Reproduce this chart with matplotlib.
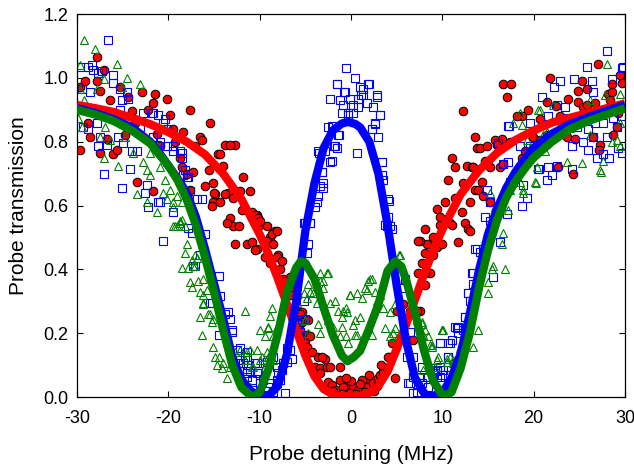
import matplotlib
matplotlib.use("Agg")
import matplotlib.pyplot as plt

plt.rcParams["font.family"] = ["Liberation Sans", "DejaVu Sans"]
plt.rcParams["axes.unicode_minus"] = False

# ------------------------------------------------------------
# Datos medidos (leidos de la figura)
# ------------------------------------------------------------
rojo_x = [-29.7, -29.7, -29.1, -27.8, -27.8, -27.5, -28.8, -28.6, -27.5, -27.1, -26.7, -26.4, -26.1, -25.6,
          -25.3, -24.7, -24.4, -24.0, -23.6, -23.4, -22.9, -22.2, -21.7, -21.7, -21.5, -21.2, -20.9, -20.1,
          -19.8, -19.5, -19.3, -18.7, -18.5, -18.0, -17.6, -17.6, -17.1, -16.5, -16.0, -15.4, -15.1,
          -18.4, -16.3, -13.8, -12.7, -14.6, -17.3, -15.6, -11.8, -14.9, -13.5, -12.2, -11.1, -15.2, -14.3,
          -11.9, -10.8, -10.3, -13.2, -12.9, -13.6, -10.0, -9.2, -8.9, -8.3, -12.7, -11.4, -10.8, -10.3,
          -9.2, -9.4, -8.0, -8.9, -14.3, -7.8, -7.4, -6.3, -6.7, -5.9, -5.8, -5.6, -5.2,
          -10.5, -8.6, -8.5, -8.1, -7.6, -6.7, -7.2, -6.7, -5.9, -5.4, -5.4, -4.8, -5.0, -4.5, -3.6, -2.8,
          -3.9, -3.4, -2.6, -2.3, -1.2, -3.4, -2.5, -2.1, -1.2, -0.4, -1.5, 0.2, 0.8, -0.1, 1.9, 1.75, 2.4,
          3.0, 3.2, 3.5, 3.9, 1.2, -0.9, 4.3, 4.8, 5.7, 6.5, 6.8, 7.6, 7.8, 8.1, 8.7, 9.0, 9.4, 8.3, 7.6,
          9.7, 10.8, 11.7,
          12.3, 13.6, 13.8, 11.1, 11.4, 12.7, 13.2, 10.6, 12.3, 13.6, 11.4, 13.0, 9.4, 10.3, 12.2, 9.7,
          11.1, 12.5, 12.8, 8.1, 9.0, 10.0, 7.3, 8.1, 8.1,
          16.6, 17.5, 17.1, 14.1, 14.9, 15.8, 16.5, 16.0, 17.4, 14.7, 15.2, 13.4, 16.3, 16.6, 14.3, 13.9,
          15.2, 14.5, 13.0, 18.7, 19.4, 18.7, 21.5, 20.7, 22.4, 23.8, 24.8, 24.9, 25.4, 22.9, 19.9, 20.7,
          21.5, 22.9, 23.7, 24.5, 22.7, 24.3, 26.5, 27.3, 27.1, 28.1, 28.6, 29.7, 29.2, 29.1, 28.7, 27.3,
          26.7, 25.8, 19.1, 21.8, 25.3, 27.0, 29.5, 28.6, 25.8, 28.4, 18.2,
          -13.2, -14.0, -15.1, -15.0, -13.8, -12.9, -10.5, -10.2, -10.0, -12.3, -8.1,
          -5.6, -4.7, -4.5, -4.8, -4.3, -3.2, 5.0, 7.2, 7.3, 4.1, 4.5,
          -2.0, -1.0, 0.5, 1.5, 2.5, 0.0, 1.0, 2.8, -0.5, 2.0, 3.3]
rojo_y = [0.97, 0.775, 0.99, 1.065, 0.99, 0.96, 0.86, 0.815, 0.765, 1.025, 0.81, 0.93, 0.76, 0.775,
          0.97, 0.82, 0.94, 0.895, 0.86, 0.675, 0.955, 0.90, 0.92, 0.645, 0.95, 0.825, 0.785, 0.935,
          0.885, 0.84, 0.80, 0.75, 0.72, 0.70, 0.90, 0.65, 0.785, 0.815, 0.66, 0.86, 0.61,
          0.83, 0.805, 0.79, 0.79, 0.76, 0.705, 0.71, 0.69, 0.635, 0.64, 0.645, 0.645, 0.60, 0.61,
          0.585, 0.58, 0.57, 0.56, 0.535, 0.545, 0.54, 0.535, 0.50, 0.52, 0.48, 0.48, 0.485, 0.465,
          0.49, 0.44, 0.445, 0.42, 0.76, 0.40, 0.37, 0.355, 0.335, 0.315, 0.25, 0.21, 0.185,
          0.46, 0.51, 0.48, 0.44, 0.425, 0.375, 0.365, 0.32, 0.27, 0.265, 0.235, 0.195, 0.18, 0.14, 0.125, 0.12,
          0.095, 0.09, 0.095, 0.095, 0.095, 0.075, 0.047, 0.038, 0.053, 0.038, 0.022, 0.031, 0.022, 0.012, 0.053, 0.031, 0.044,
          0.06, 0.069, 0.078, 0.09, 0.053, 0.031, 0.125, 0.06, 0.29, 0.27, 0.18, 0.27, 0.42, 0.45, 0.39, 0.445, 0.47, 0.48, 0.49,
          0.54, 0.545, 0.485,
          0.895, 0.815, 0.78, 0.75, 0.72, 0.725, 0.72, 0.68, 0.67, 0.65, 0.625, 0.61, 0.59, 0.61, 0.58, 0.565,
          0.54, 0.545, 0.525, 0.525, 0.50, 0.48, 0.49, 0.39, 0.35,
          0.98, 0.98, 0.94, 0.78, 0.785, 0.805, 0.81, 0.79, 0.80, 0.74, 0.72, 0.72, 0.72, 0.73, 0.675, 0.65,
          0.61, 0.63, 0.52, 0.75, 0.90, 0.88, 0.925, 0.87, 0.912, 0.935, 0.96, 0.925, 0.91, 0.88, 0.815, 0.805,
          0.82, 0.835, 0.815, 0.81, 0.72, 0.70, 0.815, 0.79, 0.775, 0.95, 0.98, 0.985, 0.89, 0.845, 0.82, 0.89,
          0.92, 0.915, 0.77, 1.00, 0.99, 1.045, 1.01, 0.955, 0.965, 0.93, 0.88,
          0.79, 0.725, 0.67, 0.64, 0.635, 0.625, 0.57, 0.56, 0.55, 0.535, 0.52,
          0.26, 0.24, 0.19, 0.157, 0.14, 0.125, 0.27, 0.27, 0.39, 0.125, 0.17,
          0.02, 0.01, 0.01, 0.015, 0.02, 0.05, 0.04, 0.035, 0.06, 0.07, 0.10]

azul_x = [-26.6, -29.7, -28.8, -28.4, -28.2, -27.7, -27.3, -26.1, -26.1, -29.9, -29.5, -28.6, -29.3, -28.8,
          -27.8, -27.5, -26.7, -27.7, -25.3, -25.1, -24.5, -24.4, -25.6, -25.5, -25.3, -25.0, -24.0, -23.4,
          -23.1, -22.8, -21.8, -21.1, -20.6, -20.1, -21.7, -21.2, -19.5, -18.7, -18.5, -27.1, -24.2, -25.1,
          -22.3, -22.6, -22.2, -21.1, -19.5, -20.6, -17.8, -17.4, -16.9, -18.2, -18.0, -17.6, -16.3,
          -17.1, -16.5, -15.4, -14.5, -14.5, -20.9, -15.2, -14.3, -13.8, -13.2, -13.0, -12.5, -12.2, -11.6,
          -11.3, -11.4, -10.5, -10.2, -10.8, -9.6, -9.1, -8.1, -7.4, -7.0, -6.5, -6.3, -5.8, -5.2, -5.0, -5.2,
          -1.5, -0.7, 1.0, 2.0, 1.3, 2.85, -2.3, -0.1, -0.9, 0.2, 0.8, 1.75, 2.4, -1.0, -0.3, 0.2, 3.2, 2.6,
          -2.5, -2.0, 2.3, 3.0, -1.4, -1.8, 0.7, -3.6, -2.8, -2.3, 3.4, -3.2, 3.5, -3.4, -3.1, 4.1, -3.6,
          -3.9, -4.5, 3.7, 4.3, -4.7, -4.8, 6.5, 6.1, 6.2, 6.8, 7.2, 8.7, 9.0, 9.4, 10.6, 10.6, 11.6, 12.3,
          12.5, 12.8, 13.4, 13.6, -5.6,
          17.2, 16.1, 16.6, 17.2, 17.4, 18.8, 19.3, 18.7, 14.9, 15.2, 14.7, 15.2, 17.1, 16.3, 13.8, 14.1,
          13.2, 13.4, 15.6, 12.8, 13.0, 12.5, 11.7, 11.7, 11.1, 9.7, 10.6, 10.6, 9.4, 9.7, 10.1, 9.0, 8.4,
          7.8, 7.6, 21.6, 21.5, 20.5, 22.6, 20.2,
          28.0, 25.8, 29.7, 29.8, 22.9, 22.2, 24.4, 26.4, 28.6, 26.5, 20.9, 22.6, 23.4, 21.6, 19.6, 17.3,
          23.6, 24.7, 25.9, 26.7, 27.6, 28.7, 29.1, 28.0, 26.5, 25.4, 24.2, 25.9, 26.9, 27.6, 28.2, 29.2,
          29.7, 29.7, 24.2, 22.0, 20.6, 18.5, 19.6,
          -0.5, 0.4, -1.5, 1.9, 1.3, 1.1, -0.8, -1.2, 2.85, 0.8, -0.3, 3.2, 2.6, -2.1, 2.3, -1.3, -1.9,
          -1.5, -3.5, -2.1, 3.4, -3.2, 3.4, -3.1, 4.2, -3.7, 4.1, 3.9, 4.5, -4.5, -5.0,
          -12.2, -11.4, -11.8, -11.1, -11.4, -10.3, -9.2, -8.5, -8.1, -7.6, -7.0, -7.8, -7.2, -8.9, -10.0,
          -8.5, -6.7, -5.4, -5.6, -5.6, 9.7, 10.8, 9.7, 9.4, 10.0, 8.3, 7.8, 6.8, 6.5, 6.8, 5.7, 5.9, 11.4,
          -21.7, -20.4, -20.9, -20.1, -19.5, -18.5, -18.4, -17.8, -16.0, -17.3, -13.5, -13.0, -12.4, -11.4,
          -11.4, -10.3, -10.0, -10.7, -8.1, -8.0]
azul_y = [1.12, 1.035, 1.035, 1.04, 1.025, 1.015, 1.02, 1.01, 0.985, 0.97, 0.965, 0.955, 0.845, 0.84,
          0.86, 0.815, 0.79, 0.785, 0.965, 0.93, 0.955, 0.935, 0.87, 0.815, 0.90, 0.795, 0.77, 0.77,
          0.845, 0.89, 0.89, 0.885, 0.86, 0.84, 0.815, 0.79, 0.785, 0.77, 0.75, 0.70, 0.715, 0.655,
          0.665, 0.64, 0.595, 0.61, 0.58, 0.49, 0.53, 0.515, 0.62, 0.71, 0.69, 0.645, 0.62,
          0.41, 0.445, 0.295, 0.195, 0.38, 0.61, 0.295, 0.315, 0.26, 0.245, 0.205, 0.148, 0.115, 0.125,
          0.10, 0.08, 0.105, 0.08, 0.053, 0.053, 0.03, 0.053, 0.105, 0.155, 0.12, 0.25, 0.23, 0.30, 0.245, 0.545,
          0.98, 0.955, 0.97, 0.98, 0.945, 0.945, 0.935, 0.935, 0.915, 0.915, 0.935, 0.92, 0.91, 0.89, 0.89, 0.89, 0.885, 0.86,
          0.845, 0.85, 0.84, 0.815, 0.82, 0.785, 0.765, 0.77, 0.77, 0.735, 0.735, 0.705, 0.68, 0.66, 0.655, 0.62, 0.63,
          0.595, 0.545, 0.54, 0.535, 0.48, 0.45, 0.205, 0.125, 0.044, 0.063, 0.016, 0.09, 0.075, 0.063, 0.125, 0.17, 0.215, 0.21,
          0.25, 0.325, 0.39, 0.465, 0.19,
          0.85, 0.795, 0.73, 0.735, 0.675, 0.665, 0.625, 0.60, 0.65, 0.61, 0.565, 0.55, 0.575, 0.485, 0.465, 0.455,
          0.39, 0.355, 0.375, 0.325, 0.30, 0.25, 0.22, 0.20, 0.18, 0.17, 0.125, 0.095, 0.085, 0.063, 0.085, 0.06, 0.031,
          0.044, 0.063, 0.72, 0.68, 0.715, 0.725, 0.765,
          1.085, 1.035, 1.03, 1.035, 0.99, 0.97, 0.995, 0.99, 0.995, 0.955, 0.94, 0.915, 0.91, 0.88, 0.86, 0.85,
          0.875, 0.845, 0.84, 0.86, 0.86, 0.875, 0.845, 0.815, 0.815, 0.80, 0.785, 0.775, 0.75, 0.76, 0.75, 0.78,
          0.765, 0.88, 0.715, 0.695, 0.715, 0.785, 0.785,
          1.03, 1.0, 0.98, 0.98, 0.965, 0.945, 0.955, 0.93, 0.94, 0.91, 0.885, 0.885, 0.855, 0.85, 0.84, 0.82, 0.785,
          0.78, 0.765, 0.74, 0.735, 0.705, 0.695, 0.67, 0.615, 0.61, 0.565, 0.535, 0.525, 0.545, 0.545,
          0.155, 0.14, 0.105, 0.08, 0.075, 0.105, 0.11, 0.125, 0.095, 0.085, 0.11, 0.053, 0.012, 0.044, 0.022,
          0.016, 0.148, 0.24, 0.205, 0.19, 0.17, 0.17, 0.095, 0.08, 0.069, 0.063, 0.095, 0.125, 0.044, 0.012, 0.34, 0.37, 0.22,
          0.89, 0.87, 0.80, 0.785, 0.77, 0.765, 0.695, 0.69, 0.51, 0.41, 0.265, 0.21, 0.105, 0.115,
          0.063, 0.075, 0.044, 0.022, 0.044, 0.075]

verde_x = [-29.2, -28.0, -29.7, -25.6, -24.5, -23.1, -27.1, -27.8, -29.9, -29.5, -26.9, -24.7, -27.5, -26.4,
           -23.9, -22.8, -22.3, -22.0, -27.1, -25.5, -23.4, -22.3, -21.2, -20.6, -20.1, -19.5, -18.7, -19.0,
           -18.2, -21.2, -20.1, -25.1, -29.7, -29.2,
           -19.5, -18.7, -18.0, -18.2, -17.4, -16.9, -17.3, -18.5, -17.8, -17.6, -16.7, -16.2, -17.4, -16.5,
           -15.8, -16.2, -16.5, -15.7, -15.1, -16.3, -15.1, -14.9, -14.7,
           -22.0, -20.9, -20.4, -19.8, -19.0, -19.5, -18.5, -18.5, -19.3, -17.1, -17.1, -16.2, -16.2, -15.4,
           -15.2, -14.5, -14.0, -14.1, -13.2, -12.7, -13.6, -11.6, -10.0, -9.1, -9.4, -8.6, -12.2, -11.1,
           -10.3, -11.6, -9.7, -9.1, -10.8, -9.4, -8.5,
           -8.9, -9.1, -8.1, -8.5, -7.0, -6.5, -5.9, -5.2, -4.8, -4.5, -3.7, -3.4, -3.1, -2.5, -2.3, -1.8,
           -1.4, -0.6, -0.4, -1.0, -0.1, 0.7, 1.2, 1.75, 1.9, 2.3, 2.6, 3.2, 3.5, 4.3, 4.8, 5.4, 1.0, 0.4,
           -2.0, -0.6, -3.6, -5.0, -4.7, -3.4, -2.5, 2.3, 0.7, 4.6, 5.0, 7.2, 7.8, 7.9, 8.9, 9.5, 10.1,
           10.5, 11.2, -11.4, -10.7, -10.0, -9.2, -11.1,
           -2.6, -3.4, -3.1, -4.7, -4.2, 2.1, 1.5, 5.2, -0.1, 2.85, -0.9, -1.0, 0.2, 1.9, 3.7, 4.8, 4.3,
           -1.2, -0.3, 0.4, 8.1, 8.7, 10.0, 12.7, 11.4,
           7.8, 8.4, 10.0, 8.9, 10.5, 9.4, 9.2, 8.3, 7.9, 11.2, 10.8, 11.9, 13.9, 13.4, 15.0, 15.4, 15.0,
           16.9, 16.5, 16.6, 15.6, 15.8, 16.3, 17.2, 17.4, 18.5, 18.8, 20.2, 20.4, 19.6, 20.5, 21.5, 20.9, 15.2,
           20.7, 22.1, 22.9, 24.0, 25.3, 27.3, 27.8, 29.5, 28.6, 29.1, 27.6, 18.8, 15.6, 25.9, 26.2,
           28.0, 26.2, 18.5, 17.7, 18.7, 19.3, 21.0, 21.2, 23.7, 27.4, 29.4, 20.3, 29.5]
verde_y = [1.12, 1.09, 1.04, 1.045, 1.0, 0.98, 0.995, 0.965, 0.875, 0.845, 0.845, 0.815, 0.815, 0.805,
           0.765, 0.735, 0.71, 0.695, 0.75, 0.725, 0.635, 0.61, 0.58, 0.64, 0.62, 0.595, 0.55, 0.535,
           0.535, 0.785, 0.735, 0.97, 0.965, 0.93,
           0.535, 0.545, 0.48, 0.45, 0.43, 0.435, 0.41, 0.405, 0.405, 0.36, 0.365, 0.37, 0.345, 0.33,
           0.335, 0.29, 0.25, 0.26, 0.245, 0.195, 0.157, 0.125, 0.10,
           0.765, 0.72, 0.68, 0.65, 0.63, 0.61, 0.61, 0.555, 0.535, 0.445, 0.41, 0.32, 0.295, 0.26,
           0.235, 0.125, 0.105, 0.09, 0.095, 0.14, 0.06, 0.27, 0.21, 0.22, 0.19, 0.28, 0.148, 0.148,
           0.148, 0.115, 0.125, 0.125, 0.095, 0.095, 0.115,
           0.255, 0.215, 0.22, 0.19, 0.29, 0.34, 0.295, 0.325, 0.31, 0.33, 0.295, 0.39, 0.365, 0.39, 0.295, 0.30,
           0.27, 0.28, 0.265, 0.25, 0.32, 0.325, 0.31, 0.335, 0.365, 0.37, 0.33, 0.32, 0.28, 0.265, 0.29, 0.445, 0.25, 0.24,
           0.22, 0.19, 0.23, 0.24, 0.20, 0.20, 0.24, 0.195, 0.195, 0.20, 0.185, 0.24, 0.23, 0.195, 0.163, 0.125, 0.21,
           0.11, 0.115, 0.14, 0.095, 0.115, 0.14, 0.03,
           0.39, 0.365, 0.34, 0.355, 0.325, 0.37, 0.34, 0.445, 0.32, 0.30, 0.27, 0.22, 0.225, 0.22, 0.215, 0.215, 0.19,
           0.19, 0.17, 0.195, 0.21, 0.163, 0.21, 0.20, 0.11,
           0.235, 0.19, 0.21, 0.157, 0.12, 0.115, 0.095, 0.115, 0.085, 0.105, 0.125, 0.153, 0.21, 0.157, 0.36, 0.40, 0.325,
           0.40, 0.48, 0.515, 0.56, 0.595, 0.62, 0.585, 0.65, 0.675, 0.65, 0.675, 0.72, 0.78, 0.90, 0.83, 0.805, 0.64,
           0.90, 0.915, 0.853, 0.843, 0.733, 0.71, 0.945, 0.95, 0.80, 0.805, 0.74, 0.64, 0.41, 0.875, 0.82,
           1.045, 0.93, 0.89, 0.86, 0.853, 0.805, 0.82, 0.77, 0.737, 0.705, 0.785, 0.67, 0.86]

# ------------------------------------------------------------
# Curvas de ajuste
# ------------------------------------------------------------
ajuste_rojo_x = [-30, -28, -26, -24, -22, -20, -18, -16, -14, -12, -10, -9, -8, -7, -6, -5, -4, -3, -2, -1,
                 0, 1, 2, 3, 4, 5, 6, 7, 8, 9, 10, 12, 14, 16, 18, 20, 22, 24, 26, 28, 30]
ajuste_rojo_y = [0.915, 0.905, 0.893, 0.875, 0.855, 0.83, 0.80, 0.76, 0.70, 0.62, 0.51, 0.445, 0.37, 0.29,
                 0.21, 0.13, 0.065, 0.025, 0.008, 0.002, 0.001, 0.003, 0.012, 0.035, 0.08, 0.15, 0.225,
                 0.305, 0.385, 0.46, 0.525, 0.635, 0.71, 0.765, 0.805, 0.835, 0.86, 0.875, 0.89, 0.905, 0.92]

ajuste_azul_x = [-30, -28, -26, -24, -22, -21, -20, -19, -18, -17, -16, -15, -14, -13, -12, -11, -10, -9.5,
                 -9, -8, -7, -6, -5, -4, -3, -2, -1, -0.3, 0.5, 1, 2, 3, 4, 5, 6, 7, 8, 8.5, 9, 10, 11, 12,
                 13, 14, 15, 16, 17, 18, 19, 20, 22, 24, 26, 28, 30]
ajuste_azul_y = [0.905, 0.89, 0.87, 0.845, 0.80, 0.765, 0.725, 0.685, 0.64, 0.565, 0.465, 0.355, 0.245,
                 0.125, 0.055, 0.018, 0.004, 0.002, 0.005, 0.035, 0.135, 0.30, 0.52, 0.67, 0.78, 0.835,
                 0.857, 0.862, 0.855, 0.845, 0.80, 0.70, 0.54, 0.35, 0.18, 0.06, 0.012, 0.003, 0.004,
                 0.012, 0.06, 0.135, 0.26, 0.395, 0.51, 0.59, 0.655, 0.705, 0.745, 0.78, 0.825, 0.855,
                 0.877, 0.897, 0.915]

ajuste_verde_x = [-30, -28, -26, -24, -22, -21, -20, -19, -18, -17, -16, -15, -14, -13, -12, -11, -10.5, -10,
                  -9, -8, -7, -6, -5.5, -5, -4, -3, -2, -1, -0.4, 0.3, 1, 2, 3, 4, 4.8, 5.5, 6, 7, 8, 9, 10,
                  10.3, 11, 12, 13, 14, 15, 16, 17, 18, 19, 20, 22, 24, 26, 28, 30]
ajuste_verde_y = [0.90, 0.885, 0.865, 0.835, 0.795, 0.76, 0.725, 0.68, 0.62, 0.54, 0.44, 0.33, 0.21, 0.10,
                  0.03, 0.004, 0.003, 0.015, 0.09, 0.20, 0.33, 0.405, 0.425, 0.42, 0.37, 0.28, 0.195, 0.13,
                  0.112, 0.125, 0.145, 0.215, 0.29, 0.395, 0.425, 0.41, 0.37, 0.265, 0.145, 0.05, 0.006,
                  0.004, 0.015, 0.09, 0.20, 0.34, 0.46, 0.555, 0.625, 0.675, 0.715, 0.75, 0.80, 0.84,
                  0.865, 0.885, 0.905]

ROJO = "#ff0000"
AZUL = "#0000ff"
VERDE = "#008000"

# ------------------------------------------------------------
# Figura
# ------------------------------------------------------------
fig = plt.figure(figsize=(6.34, 4.68), dpi=100)
ax = fig.add_axes([0.1215, 0.1517, 0.8643, 0.8183])

ax.plot(rojo_x, rojo_y, linestyle="none", marker="o", ms=6.2, mfc=ROJO, mec="black", mew=0.7, zorder=2)
ax.plot(azul_x, azul_y, linestyle="none", marker="s", ms=5.4, mfc="none", mec=AZUL, mew=0.8, zorder=2)
ax.plot(verde_x, verde_y, linestyle="none", marker="^", ms=6.0, mfc="none", mec=VERDE, mew=0.8, zorder=2)

ax.plot(ajuste_rojo_x, ajuste_rojo_y, color=ROJO, lw=6, solid_capstyle="butt", zorder=3)
ax.plot(ajuste_azul_x, ajuste_azul_y, color=AZUL, lw=6, solid_capstyle="butt", zorder=4)
ax.plot(ajuste_verde_x, ajuste_verde_y, color=VERDE, lw=6, solid_capstyle="butt", zorder=5)

ax.set_xlim(-30, 30)
ax.set_ylim(0, 1.2)
ax.set_xticks([-30, -20, -10, 0, 10, 20, 30])
ax.set_yticks([0.0, 0.2, 0.4, 0.6, 0.8, 1.0, 1.2])
ax.set_yticklabels(["0.0", "0.2", "0.4", "0.6", "0.8", "1.0", "1.2"])

ax.tick_params(direction="in", top=True, right=True, length=4.5, width=0.8, labelsize=13)
ax.tick_params(axis="x", pad=9)
ax.tick_params(axis="y", pad=6)
for s in ax.spines.values():
    s.set_linewidth(0.9)

ax.set_xlabel("Probe detuning (MHz)", fontsize=15, labelpad=13)
ax.set_ylabel("Probe transmission", fontsize=15, labelpad=11)

fig.savefig("out.png", dpi=100)
